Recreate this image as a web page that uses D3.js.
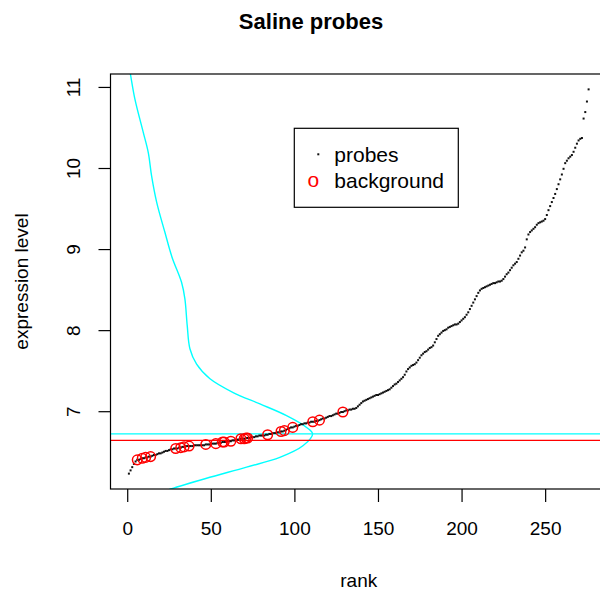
<!DOCTYPE html>
<html>
<head>
<meta charset="utf-8">
<script src="https://cdn.jsdelivr.net/npm/d3@7"></script>
<style>
  body { margin: 0; background: #fff; }
  text { font-family: "Liberation Sans", Arial, sans-serif; fill: #000; }
</style>
</head>
<body>
<div id="chart"></div>
<script>
// sorted probe expression levels, one per rank (1..276)
const probeValues = [
  6.23, 6.27, 6.31, 6.35, 6.38, 6.40, 6.40, 6.41, 6.42, 6.42,
  6.43, 6.43, 6.44, 6.44, 6.45, 6.46, 6.46, 6.47, 6.48, 6.48,
  6.49, 6.50, 6.51, 6.51, 6.52, 6.53, 6.53, 6.54, 6.54, 6.54,
  6.55, 6.55, 6.56, 6.56, 6.57, 6.57, 6.57, 6.57, 6.57, 6.58,
  6.58, 6.58, 6.58, 6.58, 6.58, 6.58, 6.59, 6.59, 6.59, 6.59,
  6.60, 6.60, 6.60, 6.61, 6.61, 6.61, 6.62, 6.62, 6.62, 6.63,
  6.63, 6.63, 6.64, 6.64, 6.64, 6.65, 6.65, 6.66, 6.66, 6.66,
  6.67, 6.67, 6.67, 6.68, 6.68, 6.68, 6.69, 6.69, 6.70, 6.70,
  6.70, 6.70, 6.71, 6.71, 6.72, 6.72, 6.73, 6.73, 6.73, 6.74,
  6.74, 6.75, 6.75, 6.76, 6.77, 6.78, 6.79, 6.80, 6.80, 6.81,
  6.82, 6.82, 6.83, 6.84, 6.84, 6.85, 6.85, 6.86, 6.86, 6.87,
  6.87, 6.87, 6.88, 6.88, 6.89, 6.90, 6.91, 6.91, 6.92, 6.93,
  6.94, 6.94, 6.95, 6.96, 6.97, 6.97, 6.98, 6.99, 6.99, 7.00,
  7.01, 7.01, 7.02, 7.02, 7.03, 7.03, 7.04, 7.06, 7.08, 7.10,
  7.12, 7.13, 7.14, 7.15, 7.16, 7.17, 7.18, 7.19, 7.20, 7.20,
  7.21, 7.22, 7.23, 7.24, 7.25, 7.26, 7.27, 7.29, 7.31, 7.33,
  7.34, 7.36, 7.38, 7.40, 7.42, 7.45, 7.49, 7.52, 7.54, 7.56,
  7.57, 7.58, 7.60, 7.63, 7.66, 7.69, 7.71, 7.73, 7.74, 7.76,
  7.78, 7.79, 7.81, 7.85, 7.89, 7.93, 7.95, 7.97, 7.99, 8.00,
  8.01, 8.03, 8.04, 8.05, 8.06, 8.07, 8.07, 8.08, 8.10, 8.12,
  8.14, 8.16, 8.19, 8.22, 8.26, 8.30, 8.34, 8.38, 8.42, 8.46,
  8.49, 8.51, 8.52, 8.53, 8.54, 8.55, 8.56, 8.57, 8.58, 8.58,
  8.59, 8.60, 8.60, 8.61, 8.63, 8.66, 8.69, 8.71, 8.74, 8.77,
  8.80, 8.82, 8.84, 8.88, 8.92, 8.96, 8.98, 9.02, 9.12, 9.18,
  9.21, 9.23, 9.25, 9.27, 9.30, 9.32, 9.33, 9.34, 9.35, 9.37,
  9.42, 9.48, 9.53, 9.58, 9.63, 9.68, 9.74, 9.80, 9.86, 9.92,
  9.99, 10.06, 10.09, 10.12, 10.14, 10.16, 10.20, 10.25, 10.30, 10.34,
  10.36, 10.37, 10.61, 10.69, 10.82, 10.97
];

// ranks of the background probes (red circles)
const backgroundRanks = [6, 9, 11, 14, 29, 32, 34, 37, 47, 53, 57, 58, 62, 68, 70, 71, 72, 84, 92, 94, 99, 111, 115, 129];

// density curve drawn sideways: level -> width in rank units
const densityLevels = [11.25, 11.17, 10.85, 10.44, 10.19, 9.90, 9.58, 9.21, 8.90, 8.59, 8.385, 8.055, 7.77, 7.58, 7.40, 7.23, 7.09, 6.946, 6.80, 6.72, 6.576, 6.43, 6.31, 6.17, 6.04, 5.98];
const densityWidths = [1.0, 1.8, 4.6, 9.6, 12.6, 14.6, 17.6, 22.5, 26.8, 32.5, 34.5, 35.9, 37.5, 41.5, 49.5, 63.4, 79.4, 95.3, 107.3, 110.9, 105.3, 91.3, 71.4, 47.0, 26.1, 18.0];

const bgCutoff = 6.64;   // red line
const densityMode = 6.72; // cyan line

const xTicks = [0, 50, 100, 150, 200, 250];
const yTicks = [7, 8, 9, 10, 11];

// MARGIN CONVENTIONS
const margin = { top: 74, right: -7, bottom: 105, left: 110.5 };
const outerWidth = 600;
const outerHeight = 594;
const width = outerWidth - margin.left - margin.right;
const height = outerHeight - margin.top - margin.bottom;

const svg = d3.select("#chart").append("svg")
  .attr("width", outerWidth)
  .attr("height", outerHeight);

const g = svg.append("g")
  .attr("transform", `translate(${margin.left}, ${margin.top})`);

const n = probeValues.length;
const probes = probeValues.map((v, i) => ({ rank: i + 1, value: v }));

// scales (R style 4% padding)
const xPad = (n - 1) * 0.04;
const x = d3.scaleLinear()
  .domain([1 - xPad, n + xPad])
  .range([0, width]);

const yMin = d3.min(probeValues), yMax = d3.max(probeValues);
const yPad = (yMax - yMin) * 0.04;
const y = d3.scaleLinear()
  .domain([yMin - yPad, yMax + yPad])
  .range([height, 0]);

svg.append("defs").append("clipPath")
  .attr("id", "plotclip")
  .append("rect")
  .attr("width", width)
  .attr("height", height);

// axes
const xAxis = g.append("g")
  .attr("transform", `translate(0, ${height})`)
  .call(d3.axisBottom(x).tickValues(xTicks).tickSize(13).tickPadding(20));
xAxis.select(".domain").remove();
xAxis.selectAll("line").attr("stroke", "#000").attr("stroke-width", 1.2);
xAxis.selectAll("text")
  .attr("font-size", 19)
  .attr("font-family", "Liberation Sans, Arial, sans-serif")
  .attr("fill", "#000");

const yAxis = g.append("g")
  .call(d3.axisLeft(y).tickValues(yTicks).tickFormat(d3.format("d")).tickSize(12));
yAxis.select(".domain").remove();
yAxis.selectAll("line").attr("stroke", "#000").attr("stroke-width", 1.2);
yAxis.selectAll("text")
  .attr("font-size", 19)
  .attr("font-family", "Liberation Sans, Arial, sans-serif")
  .attr("fill", "#000")
  .attr("x", null).attr("dy", null)
  .attr("text-anchor", "middle")
  .attr("transform", "translate(-31, 0) rotate(-90)");

const plot = g.append("g").attr("clip-path", "url(#plotclip)");

// density curve
const densLine = d3.line()
  .x(d => x(d[1]))
  .y(d => y(d[0]))
  .curve(d3.curveCatmullRom);
plot.append("path")
  .attr("d", densLine(d3.zip(densityLevels, densityWidths)))
  .attr("fill", "none")
  .attr("stroke", "#00ffff")
  .attr("stroke-width", 1.4);

// horizontal reference lines
plot.append("line")
  .attr("x1", 0).attr("x2", width)
  .attr("y1", y(densityMode)).attr("y2", y(densityMode))
  .attr("stroke", "#00ffff")
  .attr("stroke-width", 1.4);
plot.append("line")
  .attr("x1", 0).attr("x2", width)
  .attr("y1", y(bgCutoff)).attr("y2", y(bgCutoff))
  .attr("stroke", "#ff0000")
  .attr("stroke-width", 1.4);

// probes
plot.selectAll(".probe")
  .data(probes)
  .join("rect")
  .attr("class", "probe")
  .attr("x", d => x(d.rank) - 1)
  .attr("y", d => y(d.value) - 1)
  .attr("width", 2)
  .attr("height", 2)
  .attr("fill", "#111");

// background circles
plot.selectAll(".bg")
  .data(backgroundRanks.map(r => probes[r - 1]))
  .join("circle")
  .attr("class", "bg")
  .attr("cx", d => x(d.rank))
  .attr("cy", d => y(d.value))
  .attr("r", 4.8)
  .attr("fill", "none")
  .attr("stroke", "#ff0000")
  .attr("stroke-width", 1.5);

// box
g.append("rect")
  .attr("width", width)
  .attr("height", height)
  .attr("fill", "none")
  .attr("stroke", "#000")
  .attr("stroke-width", 1.2);

// legend
const legend = g.append("g")
  .attr("transform", `translate(${294.3 - margin.left}, ${128.3 - margin.top})`);
legend.append("rect")
  .attr("width", 164)
  .attr("height", 79)
  .attr("fill", "#fff")
  .attr("stroke", "#000")
  .attr("stroke-width", 1.2);
legend.append("rect")
  .attr("x", 23).attr("y", 25)
  .attr("width", 2).attr("height", 2)
  .attr("fill", "#111");
legend.append("text")
  .attr("x", 19).attr("y", 59)
  .attr("text-anchor", "middle")
  .attr("font-size", 21)
  .style("fill", "#ff0000")
  .text("o");
legend.append("text")
  .attr("x", 40).attr("y", 34)
  .attr("font-size", 21)
  .text("probes");
legend.append("text")
  .attr("x", 40).attr("y", 60)
  .attr("font-size", 21)
  .text("background");

// labels
svg.append("text")
  .attr("x", 311)
  .attr("y", 29)
  .attr("text-anchor", "middle")
  .attr("font-size", 22)
  .attr("font-weight", "bold")
  .text("Saline probes");

svg.append("text")
  .attr("x", margin.left + width / 2)
  .attr("y", 587)
  .attr("text-anchor", "middle")
  .attr("font-size", 19)
  .text("rank");

svg.append("text")
  .attr("transform", `translate(28, ${margin.top + height / 2}) rotate(-90)`)
  .attr("text-anchor", "middle")
  .attr("font-size", 19)
  .text("expression level");
</script>
</body>
</html>
